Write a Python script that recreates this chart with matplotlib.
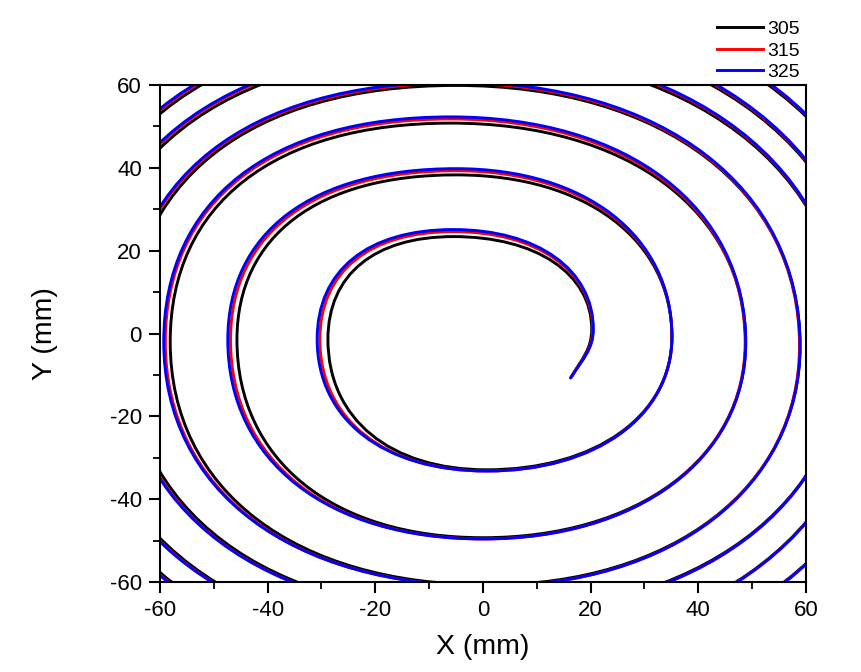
import numpy as np
import matplotlib
matplotlib.use("Agg")
import matplotlib.pyplot as plt
from matplotlib.path import Path
from matplotlib.patches import PathPatch
from matplotlib.lines import Line2D
from matplotlib.ticker import MultipleLocator

# ---- data (mm) ----
# start point, then the successive extreme points of the spiral
# (right, top, left, bottom, right, ...), turning anticlockwise
series_labels = ["305", "315", "325"]
series_colors = ["#000000", "#ff0000", "#0000ff"]

x_305 = [16.3, 20.2, -5.5, -28.8, 0.7, 35.1, -5.0, -45.7, 0.0, 48.8, -6.0, -58.1, 1.0,
         58.9, -5.0, -66.2, 0.0, 67.3, -5.0, -74.3, 0.0, 72.0, -5.0, -78.8, 0.0, 77.8, -5.0, -84.5]
y_305 = [-10.7, 1.0, 23.4, -1.4, -32.9, -0.8, 38.3, -1.5, -49.3, -2.2, 50.8, -2.0, -60.7,
         -3.0, 59.9, -3.0, -67.7, -3.0, 68.0, -3.0, -75.8, -3.0, 74.1, -3.0, -81.8, -3.0, 81.2, -3.0]

x_315 = [16.3, 20.4, -5.5, -30.3, 0.7, 35.1, -5.0, -46.9, 0.0, 48.7, -6.0, -59.0, 1.0,
         58.8, -5.0, -66.8, 0.0, 67.3, -5.0, -74.8, 0.0, 72.0, -5.0, -79.3, 0.0, 77.8, -5.0, -84.8]
y_315 = [-10.7, 1.0, 24.6, -1.4, -33.2, -0.8, 39.3, -1.5, -49.6, -2.2, 51.8, -2.0, -61.0,
         -3.0, 60.4, -3.0, -68.0, -3.0, 68.7, -3.0, -76.0, -3.0, 74.7, -3.0, -82.0, -3.0, 81.8, -3.0]

x_325 = [16.3, 20.5, -5.5, -30.8, 0.7, 35.1, -5.0, -47.4, 0.0, 48.8, -6.0, -59.3, 1.0,
         58.9, -5.0, -67.0, 0.0, 67.3, -5.0, -75.0, 0.0, 72.0, -5.0, -79.5, 0.0, 77.8, -5.0, -85.0]
y_325 = [-10.7, 1.0, 25.1, -1.4, -33.2, -0.8, 39.8, -1.5, -49.6, -2.2, 52.3, -2.0, -61.0,
         -3.0, 60.7, -3.0, -68.0, -3.0, 69.0, -3.0, -76.0, -3.0, 75.0, -3.0, -82.0, -3.0, 82.0, -3.0]

series_x = [x_305, x_315, x_325]
series_y = [y_305, y_315, y_325]

x_ticks = [-60, -40, -20, 0, 20, 40, 60]
y_ticks = [-60, -40, -20, 0, 20, 40, 60]

# fullness of each quarter arc (Bezier handle factor): right->top, top->left, left->bottom, bottom->right
QUARTER_K = [0.60, 0.63, 0.61, 0.59]


def spiral_path(xs, ys):
    """Chain of cubic Bezier quarter arcs through the extreme points."""
    P = np.column_stack([xs, ys]).astype(float)
    verts = [P[0]]
    codes = [Path.MOVETO]
    # first piece: start point up to the first right extreme (vertical tangent there)
    a, b = P[0], P[1]
    c1 = np.array([a[0] + 0.55 * (b[0] - a[0]), a[1] + 0.4 * (b[1] - a[1])])
    c2 = np.array([b[0], b[1] - 0.4 * (b[1] - a[1])])
    verts += [c1, c2, b]
    codes += [Path.CURVE4] * 3
    for i in range(1, len(P) - 1):
        a, b = P[i], P[i + 1]
        q = (i - 1) % 4
        k = QUARTER_K[q]
        if q in (0, 2):      # from a side extreme (vertical tangent) to top/bottom
            corner = np.array([a[0], b[1]])
        else:                # from top/bottom (horizontal tangent) to a side
            corner = np.array([b[0], a[1]])
        verts += [a + k * (corner - a), b + k * (corner - b), b]
        codes += [Path.CURVE4] * 3
    return Path(verts, codes)


plt.rcParams['font.family'] = ['Liberation Sans', 'DejaVu Sans']
plt.rcParams['axes.unicode_minus'] = False

fig = plt.figure(figsize=(8.61, 6.72), dpi=100)
ax = fig.add_axes([0.1858, 0.1339, 0.7503, 0.7396])

for xs, ys, col in zip(series_x, series_y, series_colors):
    ax.add_patch(PathPatch(spiral_path(xs, ys), fill=False, edgecolor=col, lw=2.1,
                           capstyle='round', joinstyle='round'))

ax.set_xlim(-60, 60)
ax.set_ylim(-60, 60)
ax.set_xticks(x_ticks)
ax.set_yticks(y_ticks)
ax.xaxis.set_minor_locator(MultipleLocator(10))
ax.yaxis.set_minor_locator(MultipleLocator(10))
ax.tick_params(which='major', direction='out', length=8, width=1.5, labelsize=16,
               top=False, right=False, pad=5)
ax.tick_params(which='minor', direction='out', length=5, width=1.3, top=False, right=False)
for s in ax.spines.values():
    s.set_linewidth(1.5)

ax.set_xlabel("X (mm)", fontsize=20.5)
ax.set_ylabel("Y (mm)", fontsize=20.5)
ax.xaxis.set_label_coords(0.5, -0.105)
ax.yaxis.set_label_coords(-0.158, 0.5)

handles = [Line2D([], [], color=c, lw=2.1) for c in series_colors]
fig.legend(handles, series_labels, loc='upper right', bbox_to_anchor=(0.938, 0.981),
           frameon=False, fontsize=14, handlelength=2.37, handletextpad=0.2,
           labelspacing=0.2, borderaxespad=0.0)

fig.savefig("out.png", dpi=100)
